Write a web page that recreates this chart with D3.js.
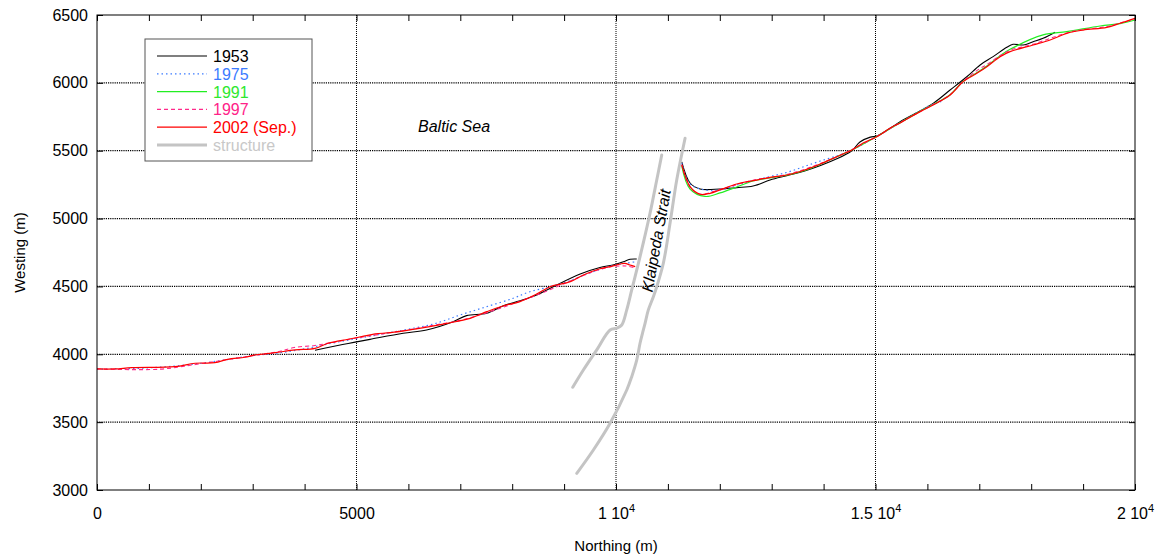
<!DOCTYPE html>
<html><head><meta charset="utf-8">
<script src="https://cdn.jsdelivr.net/npm/d3@7"></script>
<style>
body{margin:0;background:#fff;}
svg{display:block;font-family:"Liberation Sans",Arial,sans-serif;}
</style></head>
<body><svg id="c" width="1163" height="556"></svg>
<script>
// ---- data (Northing m, Westing m) ----
const xTicksMajor = [0, 5000, 10000, 15000, 20000];
const xTickMantissa = ["0", "5000", "1", "1.5", "2"];
const xTickExponent = ["", "", "4", "4", "4"];
const yTicks = [3000, 3500, 4000, 4500, 5000, 5500, 6000, 6500];

const n1953L = [4200,4450,4840,5260,5900,6350,6860,7120,7510,7820,8150,8470,8790,9310,9690,9940,10140,10270,10400];
const w1953L = [4030,4050,4080,4110,4155,4179,4240,4285,4302,4356,4395,4437,4498,4592,4640,4658,4682,4700,4702];
const n1953R = [11267,11427,11620,12005,12327,12641,12968,13291,13635,14254,14543,14700,14900,15025,15286,15474,16110,16437,16759,17016,17266,17530,17651,17844,18037,18229,18461];
const w1953R = [5417,5262,5218,5218,5228,5240,5284,5316,5350,5440,5500,5564,5600,5608,5667,5714,5849,5947,6045,6132,6193,6262,6284,6279,6303,6328,6373];

const n1975L = [0,1000,2000,3000,3500,4000,4500,5000,5500,6000,6500,7000,7510,8020,8340,8700,9100,9500,9900,10200,10400];
const w1975L = [3890,3900,3933,3990,4010,4040,4080,4115,4150,4185,4225,4290,4351,4413,4461,4495,4540,4600,4650,4672,4682];
const n1975R = [11267,11427,11716,12005,12327,12641,12968,13291,13600,13936,14300,14543,15025,15500,16000,16300];
const w1975R = [5410,5255,5211,5211,5247,5280,5310,5340,5380,5424,5468,5505,5605,5712,5825,5866];

const n1991R = [11267,11427,11716,12005,12327,12641,12968,13291,13635,13936,14254,14543,15025,15500,15859,16110,16437,16688,16952,17145,17401,17593,18229,18686,19328,19713,20000];
const w1991R = [5387,5218,5163,5189,5233,5277,5300,5320,5355,5400,5455,5505,5605,5712,5790,5840,5913,6010,6075,6125,6200,6247,6353,6377,6419,6437,6463];

const n1997L = [0,1200,1900,2500,3000,3500,3800,4200,4500,5000,5500,6000,6500,7000,7500,8000,8500,9000,9500,9900,10200,10340];
const w1997L = [3892,3890,3925,3960,3990,4020,4050,4065,4085,4120,4150,4180,4215,4250,4305,4370,4440,4520,4600,4645,4650,4640];
const n1997R = [11267,11427,11620,12005,12641,13291,13936,14543,15025,15500,16110,16437,16688,16952,17145,17401,17593,18037,18686,19000,19457,19713,20000];
const w1997R = [5400,5232,5180,5215,5282,5325,5405,5508,5605,5712,5840,5912,6010,6090,6135,6200,6240,6285,6368,6392,6415,6440,6472];

const n2002L = [0,350,670,1500,1890,2270,2520,2850,3050,3430,3820,4200,4450,4840,5100,5360,5650,6090,6740,7190,7510,7820,8150,8470,8730,9120,9370,9690,9890,10080,10170,10270,10370];
const w2002L = [3892,3892,3901,3909,3934,3938,3963,3978,3995,4012,4032,4044,4081,4111,4130,4150,4159,4184,4228,4265,4314,4356,4388,4444,4498,4535,4584,4630,4646,4665,4670,4658,4646];
const n2002R = [11267,11427,11620,11812,12005,12327,12641,12968,13291,13635,13936,14254,14543,14761,15025,15286,15500,15859,16110,16437,16688,16952,17145,17401,17593,18037,18364,18686,19000,19457,19713,20000];
const w2002R = [5395,5235,5179,5186,5211,5255,5279,5304,5321,5358,5402,5456,5505,5557,5603,5667,5710,5788,5837,5911,6009,6070,6119,6193,6230,6279,6316,6365,6389,6409,6439,6475];

const nStruct1 = [9167,9371,9629,9886,10014,10111,10207,10303,10463,10655,10785,10881];
const wStruct1 = [3757,3884,4032,4179,4192,4216,4327,4474,4719,5038,5284,5468];
const nStruct2 = [9244,9564,9886,10207,10303,10400,10463,10527,10560,10623,10720,10785,10912,11041,11170,11331];
const wStruct2 = [3123,3295,3492,3737,3835,3958,4081,4179,4228,4327,4424,4498,4671,4965,5284,5592];

const legendLabels = ["1953","1975","1991","1997","2002 (Sep.)","structure"];

// ---- styles ----
const styles = [
  {stroke:"#000000", dash:null, w:1.1, text:"#000000"},
  {stroke:"#3d7cff", dash:"1.5,3", w:1.2, text:"#3b7bff"},
  {stroke:"#22ee22", dash:null, w:1.2, text:"#2ee82e"},
  {stroke:"#ff2a8a", dash:"4,3", w:1.1, text:"#ff2288"},
  {stroke:"#ff0000", dash:null, w:1.2, text:"#ff0000"},
  {stroke:"#c4c4c4", dash:null, w:3, text:"#c8c8c8"}
];

const series = [
  {s:0, segs:[[n1953L,w1953L],[n1953R,w1953R]]},
  {s:1, segs:[[n1975L,w1975L],[n1975R,w1975R]]},
  {s:2, segs:[[n1991R,w1991R]]},
  {s:3, segs:[[n1997L,w1997L],[n1997R,w1997R]]},
  {s:4, segs:[[n2002L,w2002L],[n2002R,w2002R]]},
  {s:5, segs:[[nStruct1,wStruct1],[nStruct2,wStruct2]]}
];

const svg = d3.select("#c");
const L=97, R=1135, T=15, B=490;
const x = d3.scaleLinear().domain([0,20000]).range([L,R]);
const y = d3.scaleLinear().domain([3000,6500]).range([B,T]);

// grid
const g = svg.append("g");
g.selectAll(".gx").data(xTicksMajor.slice(1,-1)).join("line")
  .attr("x1",d=>x(d)).attr("x2",d=>x(d)).attr("y1",T).attr("y2",B)
  .attr("stroke","#000").attr("stroke-width",1).attr("stroke-dasharray","1,1");
g.selectAll(".gy").data(yTicks.slice(1,-1)).join("line")
  .attr("y1",d=>y(d)).attr("y2",d=>y(d)).attr("x1",L).attr("x2",R)
  .attr("stroke","#000").attr("stroke-width",1.2).attr("stroke-dasharray","1.2,1");

// lines
const line = d3.line().curve(d3.curveCatmullRom.alpha(0.5)).x(d=>x(d[0])).y(d=>y(d[1]));
const plot = svg.append("g");
series.forEach(sr=>{
  const st = styles[sr.s];
  sr.segs.forEach(([ns,ws])=>{
    plot.append("path").datum(ns.map((n,i)=>[n,ws[i]]))
      .attr("d",line).attr("fill","none")
      .attr("stroke",st.stroke).attr("stroke-width",st.w)
      .attr("stroke-dasharray",st.dash).attr("stroke-linejoin","round").attr("stroke-linecap", sr.s===5?"round":"butt");
  });
});

// frame
svg.append("rect").attr("x",L).attr("y",T).attr("width",R-L).attr("height",B-T)
  .attr("fill","none").attr("stroke","#000").attr("stroke-width",1);

// minor x ticks (every 1000) top & bottom
const xMinor = d3.range(0,20001,1000);
svg.append("g").attr("transform",`translate(0,${B})`)
  .call(d3.axisBottom(x).tickValues(xMinor).tickSize(-6).tickFormat(""))
  .call(a=>a.select(".domain").remove());
svg.append("g").attr("transform",`translate(0,${T})`)
  .call(d3.axisTop(x).tickValues(xMinor).tickSize(-6).tickFormat(""))
  .call(a=>a.select(".domain").remove());
// y ticks left & right
svg.append("g").attr("transform",`translate(${L},0)`)
  .call(d3.axisLeft(y).tickValues(yTicks).tickSize(-6).tickPadding(9).tickFormat(d3.format("d")))
  .call(a=>{a.select(".domain").remove();
    a.selectAll("text").attr("font-size",16).attr("font-family","'Liberation Sans',Arial,sans-serif").attr("fill","#000");});
svg.append("g").attr("transform",`translate(${R},0)`)
  .call(d3.axisRight(y).tickValues(yTicks).tickSize(-6).tickFormat(""))
  .call(a=>a.select(".domain").remove());

// x labels
const xl = svg.append("g").attr("transform",`translate(0,${B})`)
  .call(d3.axisBottom(x).tickValues(xTicksMajor).tickSize(0).tickPadding(18).tickFormat(""))
  .call(a=>a.select(".domain").remove());
xl.selectAll(".tick text").each(function(d,i){
  const t = d3.select(this).attr("font-size",16).attr("fill","#000")
    .attr("font-family","'Liberation Sans Narrow','Liberation Sans',Arial,sans-serif");
  const m = xTickMantissa[i], e = xTickExponent[i];
  if(e){
    t.append("tspan").text(m+" 10");
    t.append("tspan").attr("font-size",11).attr("dy",-7).text(e);
  } else t.text(m);
});

// axis titles
svg.append("text").attr("x",(L+R)/2).attr("y",551).attr("text-anchor","middle")
  .attr("font-size",15).attr("font-family","'Liberation Sans Narrow','Liberation Sans',Arial,sans-serif").text("Northing (m)");
svg.append("text").attr("transform",`translate(25,${(T+B)/2}) rotate(-90)`).attr("text-anchor","middle")
  .attr("font-size",15).text("Westing (m)");

// annotations
svg.append("text").attr("x",418).attr("y",132).attr("font-size",16).attr("font-style","italic").text("Baltic Sea");
svg.append("text").attr("transform",`translate(${x(10880)},${y(4830)}) rotate(-79.8)`).attr("text-anchor","middle")
  .attr("font-size",16).attr("font-style","italic").text("Klaipeda Strait");

// legend
const lg = svg.append("g");
lg.append("rect").attr("x",145).attr("y",39).attr("width",167).attr("height",122)
  .attr("fill","#fff").attr("stroke","#555").attr("stroke-width",1);
legendLabels.forEach((lab,i)=>{
  const st = styles[i], yy = 56 + i*17.8;
  lg.append("line").attr("x1",157).attr("x2",207).attr("y1",yy).attr("y2",yy)
    .attr("stroke",st.stroke).attr("stroke-width",i===5?3:1.2).attr("stroke-dasharray",st.dash);
  lg.append("text").attr("x",213).attr("y",yy+6).attr("font-size",16).attr("fill",st.text).text(lab);
});
</script></body></html>
